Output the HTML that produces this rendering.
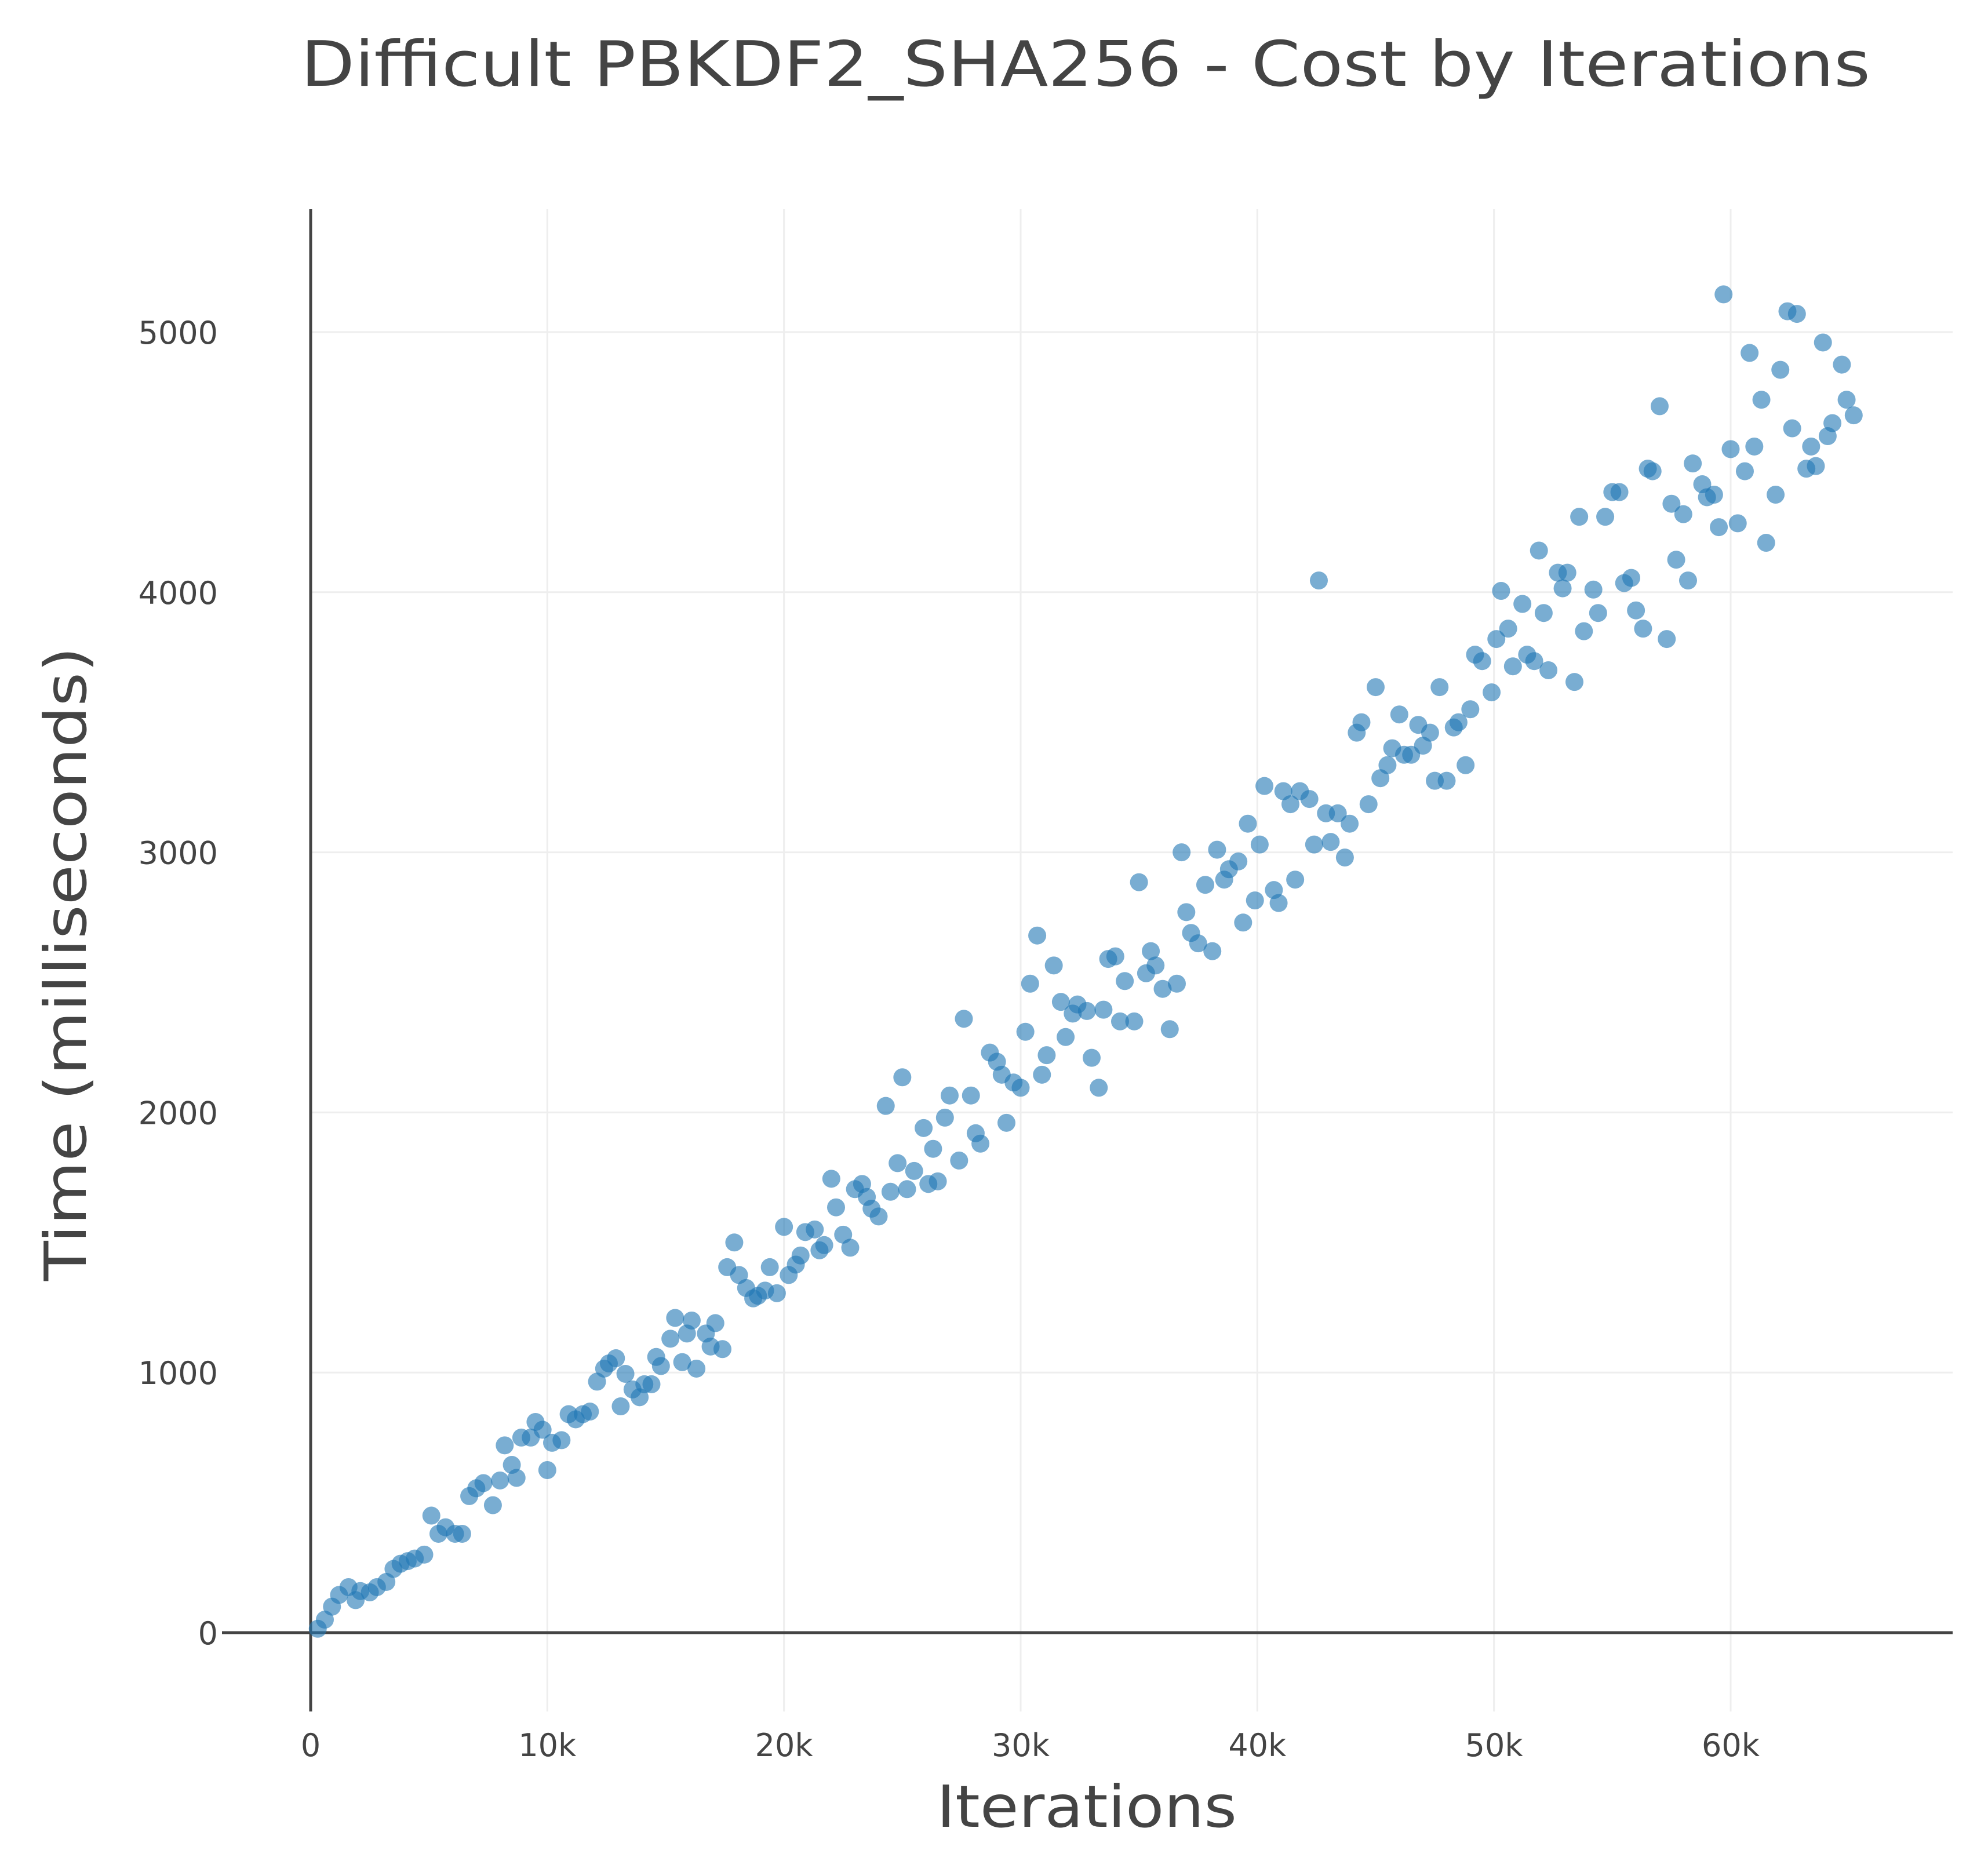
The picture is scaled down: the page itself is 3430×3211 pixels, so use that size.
<!DOCTYPE html>
<html><head><meta charset="utf-8">
<style>
html,body{margin:0;padding:0;background:#fff;}
svg{display:block;font-family:"DejaVu Sans","Liberation Sans",sans-serif;}
</style></head>
<body>
<svg id="chart" width="3430" height="3211" viewBox="0 0 3430 3211" xmlns="http://www.w3.org/2000/svg">
<rect width="3430" height="3211" fill="#fff"/>
<text x="1873" y="148" font-size="108" fill="#444" text-anchor="middle" textLength="2708" lengthAdjust="spacingAndGlyphs">Difficult PBKDF2_SHA256 - Cost by Iterations</text>
<g id="grid"></g>
<g id="axes"></g>
<g id="points"></g>
<text x="1875" y="3152" font-size="100" fill="#444" text-anchor="middle" textLength="518" lengthAdjust="spacingAndGlyphs">Iterations</text>
<text x="0" y="0" transform="translate(148,1663) rotate(-90)" font-size="100" fill="#444" text-anchor="middle" textLength="1094" lengthAdjust="spacingAndGlyphs">Time (milliseconds)</text>
</svg>
<script>
const xTicks = [0, 10000, 20000, 30000, 40000, 50000, 60000];
const xTickLabels = ["0", "10k", "20k", "30k", "40k", "50k", "60k"];
const yTicks = [0, 1000, 2000, 3000, 4000, 5000];
const yTickLabels = ["0", "1000", "2000", "3000", "4000", "5000"];
const iterationsK = [0.3,0.6,0.9,1.2,1.6,1.9,2.1,2.5,2.8,3.2,3.5,3.8,4.1,4.4,4.8,5.1,5.4,5.7,6.1,6.4,6.7,7.0,7.3,7.7,8.0,8.2,8.5,8.7,8.9,9.3,9.5,9.8,10.0,10.2,10.6,10.9,11.2,11.5,11.8,12.1,12.4,12.6,12.9,13.1,13.3,13.6,13.9,14.1,14.4,14.6,14.8,15.2,15.4,15.7,15.9,16.1,16.3,16.7,16.9,17.1,17.4,17.6,17.9,18.1,18.4,18.7,18.9,19.2,19.4,19.7,20.0,20.2,20.5,20.7,20.9,21.3,21.5,21.7,22.0,22.2,22.5,22.8,23.0,23.3,23.5,23.7,24.0,24.3,24.5,24.8,25.0,25.2,25.5,25.9,26.1,26.3,26.5,26.8,27.0,27.4,27.6,27.9,28.1,28.3,28.7,29.0,29.2,29.4,29.7,30.0,30.2,30.4,30.7,30.9,31.1,31.4,31.7,31.9,32.2,32.4,32.8,33.0,33.3,33.5,33.7,34.0,34.2,34.4,34.8,35.0,35.3,35.5,35.7,36.0,36.3,36.6,36.8,37.0,37.2,37.5,37.8,38.1,38.3,38.6,38.8,39.2,39.4,39.6,39.9,40.1,40.3,40.7,40.9,41.1,41.4,41.6,41.8,42.2,42.4,42.6,42.9,43.1,43.4,43.7,43.9,44.2,44.4,44.7,45.0,45.2,45.5,45.7,46.0,46.2,46.5,46.8,47.0,47.3,47.5,47.7,48.0,48.3,48.5,48.8,49.0,49.2,49.5,49.9,50.1,50.3,50.6,50.8,51.2,51.4,51.7,51.9,52.1,52.3,52.7,52.9,53.1,53.4,53.6,53.8,54.2,54.4,54.7,55.0,55.3,55.5,55.8,56.0,56.3,56.5,56.7,57.0,57.3,57.5,57.7,58.0,58.2,58.4,58.8,59.0,59.3,59.5,59.7,60.0,60.3,60.6,60.8,61.0,61.3,61.5,61.9,62.1,62.4,62.6,62.8,63.2,63.4,63.6,63.9,64.1,64.3,64.7,64.9,65.2];
const timeMs = [15,50,100,145,175,125,160,155,175,195,245,265,275,285,300,450,380,405,380,380,525,555,575,490,585,720,645,595,750,750,810,780,625,730,740,840,820,840,850,965,1015,1035,1055,870,995,935,905,955,955,1060,1025,1130,1210,1040,1150,1200,1015,1150,1100,1190,1090,1405,1500,1375,1325,1285,1295,1315,1405,1305,1560,1375,1415,1450,1540,1550,1470,1490,1745,1635,1530,1480,1705,1725,1675,1630,1600,2025,1695,1805,2135,1705,1775,1940,1725,1860,1735,1980,2065,1815,2360,2065,1920,1880,2230,2195,2145,1960,2115,2095,2310,2495,2680,2145,2220,2565,2425,2290,2380,2415,2390,2210,2095,2395,2590,2600,2350,2505,2350,2885,2535,2620,2565,2475,2320,2495,3000,2770,2690,2650,2875,2620,3010,2895,2935,2965,2730,3110,2815,3030,3255,2855,2805,3235,3185,2895,3235,3205,3030,4045,3150,3040,3150,2980,3110,3460,3500,3185,3635,3285,3335,3400,3530,3375,3375,3490,3410,3460,3275,3635,3275,3480,3500,3335,3550,3760,3735,3615,3820,4005,3860,3715,3955,3760,3735,4160,3920,3700,4075,4015,4075,3655,4290,3850,4010,3920,4290,4385,4385,4035,4055,3930,3860,4475,4465,4715,3820,4340,4125,4300,4045,4495,4415,4365,4375,4250,5145,4550,4265,4465,4920,4560,4740,4190,4375,4855,5080,4630,5070,4475,4560,4485,4960,4600,4650,4875,4740,4680];

const NS = "http://www.w3.org/2000/svg";
const X0 = 536, XPER = 408.33 / 10000;
const Y0 = 2817, YPER = 448.8 / 1000;
function xs(v){ return X0 + v * XPER; }
function ys(v){ return Y0 - v * YPER; }
const PL = 383, PR = 3369, PT = 361, PB = 2953;

function mk(tag, attrs, parent){
  const el = document.createElementNS(NS, tag);
  for (const k in attrs) el.setAttribute(k, attrs[k]);
  parent.appendChild(el);
  return el;
}
const grid = document.getElementById('grid');
const axes = document.getElementById('axes');
const pts = document.getElementById('points');

xTicks.forEach((t, i) => {
  if (t !== 0) {
    const g = mk('line', {x1: xs(t), x2: xs(t), y1: PT, y2: PB, stroke: '#eeeeee', 'stroke-width': 3}, grid);
    
    
  }
  const lb = mk('text', {x: xs(t), y: 3030, 'font-size': 54, fill: '#444', 'text-anchor': 'middle'}, axes);
  lb.textContent = xTickLabels[i];
  
  
});
yTicks.forEach((t, i) => {
  if (t !== 0) {
    const g = mk('line', {x1: X0, x2: PR, y1: ys(t), y2: ys(t), stroke: '#eeeeee', 'stroke-width': 3}, grid);
    
    
  }
  const lb = mk('text', {x: 376, y: ys(t) + 20, 'font-size': 54, fill: '#444', 'text-anchor': 'end'}, axes);
  lb.textContent = yTickLabels[i];
  
  
});
const xa = mk('line', {x1: PL, x2: PR, y1: ys(0), y2: ys(0), stroke: '#444', 'stroke-width': 5}, axes);


const ya = mk('line', {x1: xs(0), x2: xs(0), y1: PT, y2: PB, stroke: '#444', 'stroke-width': 5}, axes);



iterationsK.forEach((k, i) => {
  const c = mk('circle', {cx: xs(k * 1000), cy: ys(timeMs[i]), r: 15.5, fill: 'rgba(31,119,180,0.6)'}, pts);
  
  
});
</script>
</body></html>
